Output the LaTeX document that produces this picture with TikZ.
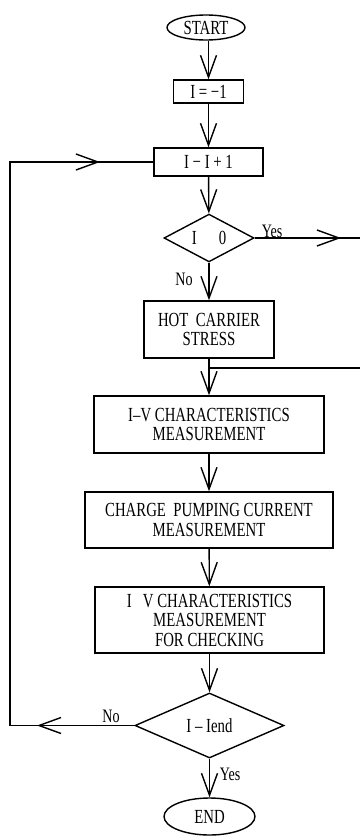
\documentclass[tikz,border=0pt]{standalone}
\usepackage{fontspec}
\setmainfont{Liberation Serif}[FakeStretch=0.74]
\usetikzlibrary{shapes.geometric,arrows.meta}
\begin{document}
\begin{tikzpicture}[x=1pt,y=-1pt,
  every node/.style={font=\fontsize{20}{19.5}\selectfont, align=center, inner sep=0pt, line width=1.4pt},
  boxnode/.style={draw, rectangle},
  ovalnode/.style={draw, ellipse},
  decnode/.style={draw, diamond},
  lbl/.style={font=\fontsize{19}{19}\selectfont},
  conn/.style={line width=1.4pt},
  arr/.style={conn, -{Straight Barb[length=22pt,width=16pt,line width=1.4pt]}}
]
\useasboundingbox (0,0) rectangle (360,838);

\node[ovalnode, minimum width=78pt, minimum height=25pt] (start) at (206,27.5) {START};
\node[boxnode, minimum width=70pt, minimum height=23pt] (init) at (208.5,91.5) {I = −1};
\node[boxnode, minimum width=109pt, minimum height=28pt] (inc) at (208.5,162) {I − I + 1};
\node[decnode, minimum width=90pt, minimum height=44pt] (d1) at (209,238) {I\hspace{22pt}0};
\node[boxnode, minimum width=130pt, minimum height=57pt] (hot) at (209,329.5) {HOT\ \ CARRIER\\STRESS};
\node[boxnode, minimum width=230pt, minimum height=57pt] (iv) at (209,424.5) {I–V CHARACTERISTICS\\MEASUREMENT};
\node[boxnode, minimum width=248pt, minimum height=56pt] (cp) at (209,520) {CHARGE\ \ PUMPING CURRENT\\MEASUREMENT};
\node[boxnode, minimum width=229pt, minimum height=66pt] (chk) at (209.5,620) {I\ \ \ V CHARACTERISTICS\\MEASUREMENT\\FOR CHECKING};
\node[decnode, minimum width=149pt, minimum height=65pt] (d2) at (209.5,725.5) {I – Iend};
\node[ovalnode, minimum width=91pt, minimum height=37pt] (end) at (209.5,816.5) {END};

% main flow
\draw[arr] (start.south -| init.north) -- (init.north);
\draw[arr] (init) -- (inc);
\draw[arr] (inc) -- (d1);
\draw[arr] (d1.south) -- (hot.north);
\draw[arr] (hot) -- (iv);
\draw[arr] (iv) -- (cp);
\draw[arr] (cp) -- (chk);
\draw[arr] (chk) -- (d2);
\draw[arr] (d2.south) -- (end.north);

% Yes branch out to the right and return
\coordinate (yr) at (360,238);
\coordinate (yrtip) at (341,238);
\coordinate (rr) at (360,368);
\coordinate (rj) at (209,368);
\draw[conn] (d1.east) -- (yr);
\draw[arr] (d1.east) -- (yrtip);
\draw[conn] (rr) -- (rj);

% loop back
\coordinate (lb) at (10,725.5);
\coordinate (lt) at (10,162);
\coordinate (ltip) at (100,162);
\coordinate (lbtip) at (37,725.5);
\draw[conn] (d2.west) -- (lb) -- (lt) -- (inc.west);
\draw[arr] (lt) -- (ltip);
\draw[arr] (d2.west) -- (lbtip);

% labels
\node[lbl] (yes1) at (272,231) {Yes};
\node[lbl] (no1) at (184,279) {No};
\node[lbl] (no2) at (111,716) {No};
\node[lbl] (yes2) at (230,774) {Yes};
\end{tikzpicture}
\end{document}
